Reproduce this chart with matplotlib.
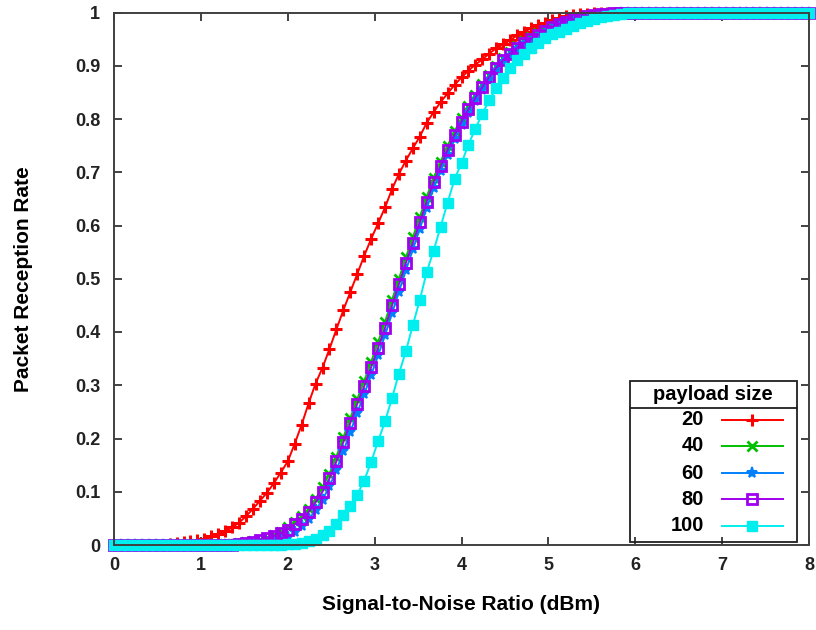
import numpy as np
import matplotlib
matplotlib.use("Agg")
import matplotlib.pyplot as plt
from matplotlib.lines import Line2D
from matplotlib.patches import Rectangle

plt.rcParams['font.family'] = ['Liberation Sans Narrow', 'Liberation Sans', 'DejaVu Sans']
plt.rcParams['font.weight'] = 'bold'

# SNR grid (dBm), one sample every 0.08
snr = np.round(np.arange(0, 8.001, 0.08), 2)

prr_20 = [0.0] * 8 + [
    0.002, 0.003, 0.005, 0.007, 0.009, 0.012, 0.016, 0.020, 0.026, 0.033,
    0.042, 0.054, 0.068, 0.083, 0.098, 0.116, 0.136, 0.157, 0.190, 0.226,
    0.266, 0.303, 0.333, 0.368, 0.405, 0.441, 0.475, 0.509, 0.543, 0.575,
    0.604, 0.634, 0.668, 0.697, 0.722, 0.745, 0.767, 0.793, 0.813, 0.832,
    0.848, 0.864, 0.878, 0.891, 0.902, 0.912, 0.923, 0.933, 0.940, 0.948,
    0.957, 0.964, 0.970, 0.976, 0.981, 0.986, 0.990, 0.993, 0.996, 0.997,
    0.998, 0.999, 0.999] + [1.0] * 30

prr_40 = [0.0] * 16 + [
    0.001, 0.002, 0.003, 0.005, 0.007, 0.010, 0.014, 0.019, 0.025, 0.033,
    0.043, 0.054, 0.068, 0.087, 0.108, 0.134, 0.166, 0.202, 0.238, 0.274,
    0.308, 0.344, 0.381, 0.419, 0.460, 0.500, 0.540, 0.578, 0.616, 0.654,
    0.690, 0.720, 0.750, 0.777, 0.801, 0.824, 0.845, 0.865, 0.883, 0.900,
    0.914, 0.926, 0.937, 0.946, 0.954, 0.961, 0.967, 0.974, 0.980, 0.984,
    0.988, 0.991, 0.994, 0.996, 0.997, 0.998, 0.999] + [1.0] * 28

prr_60 = [0.0] * 21 + [
    0.001, 0.003, 0.006, 0.010, 0.015, 0.024, 0.035, 0.048, 0.065, 0.085,
    0.110, 0.140, 0.176, 0.212, 0.248, 0.283, 0.319, 0.356, 0.394, 0.435,
    0.476, 0.516, 0.555, 0.594, 0.633, 0.670, 0.702, 0.733, 0.762, 0.788,
    0.811, 0.834, 0.855, 0.874, 0.891, 0.907, 0.919, 0.931, 0.940, 0.948,
    0.956, 0.963, 0.970, 0.976, 0.981, 0.985, 0.989, 0.992, 0.994, 0.996,
    0.997, 0.998, 0.999] + [1.0] * 27

prr_80 = [0.0] * 18 + [
    0.002, 0.004, 0.006, 0.009, 0.013, 0.017, 0.022, 0.029, 0.039, 0.049,
    0.062, 0.080, 0.100, 0.125, 0.157, 0.193, 0.229, 0.265, 0.298, 0.334,
    0.370, 0.408, 0.450, 0.490, 0.530, 0.568, 0.606, 0.645, 0.682, 0.712,
    0.742, 0.770, 0.795, 0.818, 0.840, 0.860, 0.879, 0.896, 0.911, 0.923,
    0.934, 0.943, 0.951, 0.958, 0.965, 0.972, 0.978, 0.983, 0.987, 0.990,
    0.993, 0.995, 0.997, 0.998, 0.999] + [1.0] * 28

prr_100 = [0.0] * 25 + [
    0.001, 0.002, 0.004, 0.007, 0.012, 0.019, 0.027, 0.040, 0.056, 0.073,
    0.094, 0.121, 0.156, 0.195, 0.232, 0.276, 0.322, 0.364, 0.413, 0.460,
    0.513, 0.553, 0.598, 0.643, 0.687, 0.717, 0.752, 0.782, 0.810, 0.835,
    0.859, 0.877, 0.895, 0.910, 0.922, 0.934, 0.943, 0.952, 0.959, 0.964,
    0.969, 0.975, 0.980, 0.984, 0.988, 0.991, 0.994, 0.996, 0.998, 0.999] + [1.0] * 26

payloads = ['20', '40', '60', '80', '100']
series = [prr_20, prr_40, prr_60, prr_80, prr_100]

colors = ['#ff0000', '#00c000', '#0080ff', '#a000f0', '#00eeee']
markers = ['+', 'x', '*', 's', 's']
msizes = [8, 6.5, 8, 6.5, 7.5]
fills = ['full', 'full', 'full', 'none', 'full']
mews = [2.2, 2.0, 1.4, 2.0, 1.0]

fig = plt.figure(figsize=(8.16, 6.3), dpi=100)
ax = fig.add_axes([114 / 816, 85 / 630, 695 / 816, 532.5 / 630])

for ys, c, m, ms, fs, mw in zip(series, colors, markers, msizes, fills, mews):
    ax.plot(snr, ys, color=c, lw=1.4, marker=m, ms=ms, fillstyle=fs,
            mew=mw, clip_on=False)

ax.set_xlim(0, 8)
ax.set_ylim(0, 1)
ax.set_xticks(range(0, 9))
ax.set_yticks(np.round(np.arange(0, 1.01, 0.1), 1))
ax.set_yticklabels(['0', '0.1', '0.2', '0.3', '0.4', '0.5', '0.6', '0.7', '0.8', '0.9', '1'])
ax.tick_params(direction='in', length=6, width=1.2, top=True, right=True,
               labelsize=13, colors='#222222')
ax.tick_params(axis='x', pad=9)
ax.tick_params(axis='y', pad=10)
for s in ax.spines.values():
    s.set_color('#404040')
    s.set_linewidth(1.4)

ax.set_xlabel('Signal-to-Noise Ratio (dBm)', fontsize=15, fontweight='bold', labelpad=15)
ax.set_ylabel('Packet Reception Rate', fontsize=15, fontweight='bold', labelpad=30)

# legend box drawn by hand (gnuplot style, right-aligned labels)
tr = ax.transAxes
ax.add_patch(Rectangle((0.742, 0.006), 0.241, 0.302, transform=tr, fill=False,
                       ec='#202020', lw=1.3, clip_on=False, zorder=5))
ax.add_line(Line2D([0.742, 0.983], [0.257, 0.257], transform=tr, color='#202020',
                   lw=1.3, clip_on=False, zorder=5))
ax.text(0.862, 0.283, 'payload size', transform=tr, ha='center', va='center',
        fontsize=14.5, fontweight='bold')
rows = [0.235, 0.186, 0.135, 0.086, 0.036]
for lab, yy, c, m, ms, fs, mw in zip(payloads, rows, colors, markers, msizes, fills, mews):
    ax.text(0.849, yy, lab, transform=tr, ha='right', va='center',
            fontsize=14.5, fontweight='bold')
    ax.add_line(Line2D([0.875, 0.963], [yy, yy], transform=tr, color=c, lw=1.4,
                       clip_on=False, zorder=6))
    ax.add_line(Line2D([0.918], [yy], transform=tr, color=c, marker=m, ms=ms,
                       fillstyle=fs, mew=mw, lw=0, clip_on=False, zorder=6))

fig.savefig('out.png', dpi=100)
